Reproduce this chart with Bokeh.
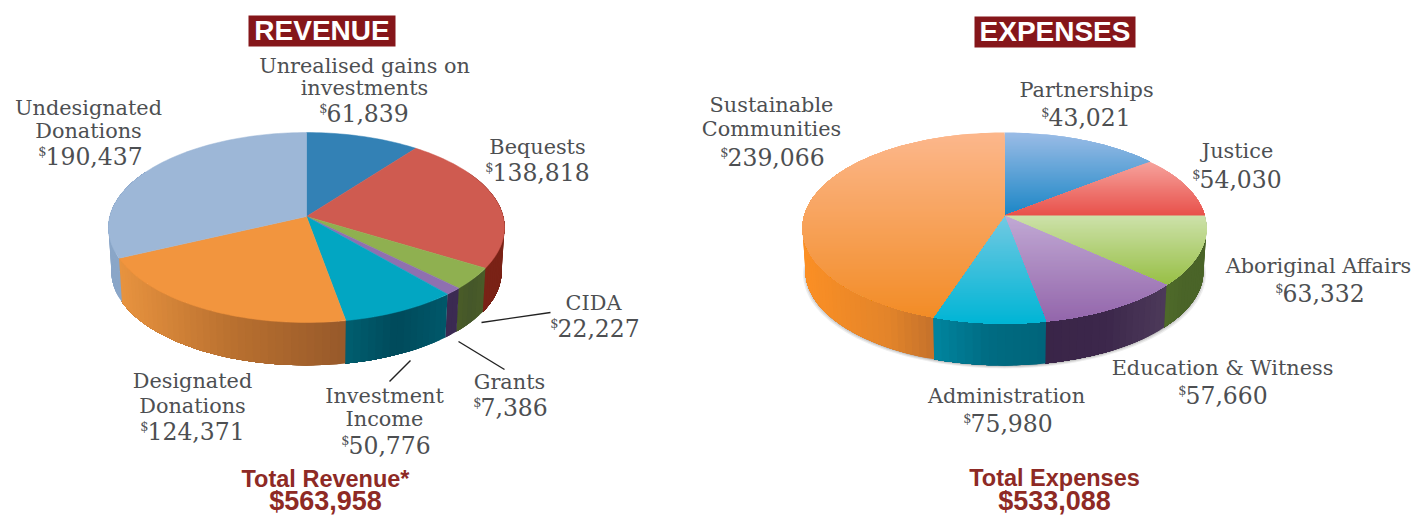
import math
from bokeh.plotting import figure
from bokeh.embed import file_html
from bokeh.resources import INLINE
from bokeh.core.properties import value

# ---- chart data ----
revenue_labels = [["Unrealised gains on", "investments"], ["Bequests"], ["CIDA"], ["Grants"],
                  ["Investment", "Income"], ["Designated", "Donations"], ["Undesignated", "Donations"]]
revenue_values = [61839, 138818, 22227, 7386, 50776, 124371, 190437]
revenue_total = "$563,958"

expense_labels = [["Partnerships"], ["Justice"], ["Aboriginal Affairs"], ["Education & Witness"],
                  ["Administration"], ["Sustainable", "Communities"]]
expense_values = [43021, 54030, 63332, 57660, 75980, 239066]
# The slices of the printed expenses pie do not follow the printed amounts,
# so their sizes (in degrees) are read from the picture itself.
expense_slice_degrees = [51.7, 38.3, 42.5, 37.1, 28.6, 161.8]
expense_total = "$533,088"

# ---- styles and layout (screen pixels) ----
FS = "DejaVu Serif"
FB = "Liberation Sans"
TXT = "#4d4f52"
RED = "#8e2a25"

rev_geo = dict(cx=306, cy=216, a=196.7, b=93.7, k=0.1158, sb=0.985, dy=44.5)
exp_geo = dict(cx=1004, cy=215, a=200.3, b=93.9, k=0.131, sb=0.985, dy=43.5)

rev_top = [("#3381b5", "#3381b5"), ("#cf5b50", "#cf5b50"), ("#8fb050", "#8fb050"), ("#8f70b0", "#8f70b0"),
           ("#02a6c2", "#02a6c2"), ("#f2953e", "#f2953e"), ("#9db7d7", "#9db7d7")]
rev_wall = [("#1c4d6e",) * 3, ("#6e1d14", "#7a2216", "#7a2216"), ("#4a5c28", "#45572a", "#4a5c28"),
            ("#3b2a52", "#3b2a52", "#3b2a52"), ("#005f70", "#004a5b", "#00586a"),
            ("#e8933f", "#b9702f", "#97592a"), ("#8aa6c8", "#8aa6c8", "#8aa6c8")]
exp_top = [("#9bbce6", "#1b86c6"), ("#f6a39d", "#e8504a"), ("#cde2aa", "#97bf45"), ("#c1a9d4", "#9366ab"),
           ("#72c9e2", "#00b5d5"), ("#fcb78c", "#f28c26")]
exp_wall = [("#3a6f95",) * 3, ("#a03a34",) * 3, ("#4f6a2a", "#4a6428", "#4a6428"), ("#3a2548", "#3c274b", "#4d3a5a"),
            ("#00859f", "#006b82", "#00647a"), ("#f08a27", "#e3842a", "#c4722b")]

rev_pos = [(364, [74, 96], 327, 122), (537, [155], 493, 181), (593, [311], 558, 337), (509, [390], 481, 416),
           (384, [404, 427], 349, 454), (192, [389, 414], 148, 440), (88, [116, 139], 46, 165)]
exp_pos = [(1086, [98], 1049, 126), (1237, [159], 1200, 188), (1318, [274], 1283, 302), (1222, [376], 1186, 404),
           (1006, [404], 971, 432), (771, [113, 137], 728, 166)]
leaders = [((481, 322), (550, 312)), ((458, 341), (504, 369)), ((410, 360), (389, 381))]

p = figure(width=1416, height=516, x_range=(0, 1416), y_range=(516, 0), output_backend="svg",
           toolbar_location=None, min_border=0, outline_line_color=None, background_fill_color="white")
p.axis.visible = False
p.grid.visible = False


def mix(c1, c2, t):
    a = [int(c1[i:i + 2], 16) for i in (1, 3, 5)]
    b = [int(c2[i:i + 2], 16) for i in (1, 3, 5)]
    return "#%02x%02x%02x" % tuple(round(x + (y - x) * t) for x, y in zip(a, b))


def rim(t, g, low=False):
    u, v = math.sin(t), math.cos(t)
    w = 1 + g["k"] * v
    s = g["sb"] if low else 1
    return g["cx"] + s * g["a"] * u / w, g["cy"] + (g["dy"] if low else 0) - s * g["b"] * v / w


def clip_band(poly, y0, y1):
    def clip(pts, inside, cross):
        out = []
        for i, q in enumerate(pts):
            r = pts[i - 1]
            if inside(q):
                if not inside(r):
                    out.append(cross(r, q))
                out.append(q)
            elif inside(r):
                out.append(cross(r, q))
        return out

    def at(y):
        return lambda r, q: (r[0] + (q[0] - r[0]) * (y - r[1]) / (q[1] - r[1]), y)

    pts = clip(poly, lambda q: q[1] >= y0, at(y0))
    return clip(pts, lambda q: q[1] <= y1, at(y1)) if pts else pts


def draw_pie(values, g, top, wall, shadow=False):
    total = sum(values)
    ang, edges = 0.0, []
    for val in values:
        edges.append((ang, ang + val / total * 2 * math.pi))
        ang = edges[-1][1]
    if shadow:
        for grow, off, al in [(1.012, 3, 0.10), (1.006, 2, 0.14), (1.0, 1, 0.2)]:
            pts = [rim(math.radians(d), g, True) for d in range(0, 360, 2)]
            p.patch([g["cx"] + (x - g["cx"]) * grow for x, _ in pts], [y + off for _, y in pts],
                    fill_color="#555555", fill_alpha=al, line_color=None)
    # side wall: overlapping strips shaded from left to right, painted in order
    xs, ys, cols = [], [], []
    for (a0, a1), stops in zip(edges, wall):
        lo, hi = max(a0, math.radians(60)), min(a1, math.radians(300))
        if hi <= lo:
            continue
        n = max(1, int(math.degrees(hi - lo) / 2))
        xl, xh = sorted((rim(lo, g)[0], rim(hi, g)[0]))
        for i in range(n):
            ts = [lo + (hi - lo) * j / n for j in range(i, n + 1)]
            pts = [rim(t, g) for t in ts] + [rim(t, g, True) for t in reversed(ts)]
            f = ((rim(ts[0], g)[0] + rim(ts[1], g)[0]) / 2 - xl) / max(xh - xl, 1)
            c = mix(stops[0], stops[1], f * 2) if f < .5 else mix(stops[1], stops[2], f * 2 - 1)
            xs.append([q[0] for q in pts])
            ys.append([q[1] for q in pts])
            cols.append(c)
    p.patches(xs, ys, fill_color=cols, line_color=None)
    # top face: overlapping horizontal bands when the slice has a vertical gradient
    for (a0, a1), (c0, c1) in zip(edges, top):
        n = max(2, int(math.degrees(a1 - a0) / 1.5))
        poly = [(g["cx"], g["cy"])] + [rim(a0 + (a1 - a0) * i / n, g) for i in range(n + 1)]
        if c0 == c1:
            p.patch([q[0] for q in poly], [q[1] for q in poly], fill_color=c0, line_color=c0, line_width=0.5)
            continue
        y_a, y_b = min(q[1] for q in poly), max(q[1] for q in poly)
        xs, ys, cols = [], [], []
        y = y_a
        while y < y_b:
            band = clip_band(poly, y, y_b)
            if len(band) >= 3:
                xs.append([q[0] for q in band])
                ys.append([q[1] for q in band])
                cols.append(mix(c0, c1, (y + 1 - y_a) / (y_b - y_a)))
            y += 2
        p.patches(xs, ys, fill_color=cols, line_color=None)


def put(x, y, s, size, color=TXT, font=FS, align="center", style="normal"):
    # the svg backend draws "alphabetic" text about 0.4 em below the requested baseline
    p.text([x], [y - 0.4 * size], text=[s], text_font=value(font), text_font_size=f"{size}px", text_color=color,
           text_align=align, text_baseline="alphabetic", text_font_style=style)


def captions(labels, values, pos):
    for lines, val, (cx, bases, xa, base) in zip(labels, values, pos):
        for line, b in zip(lines, bases):
            put(cx, b, line, 20.8)
        put(xa, base - 9, "$", 13, align="right")
        put(xa - 1, base, f"{val:,}", 23.5, align="left")


draw_pie(revenue_values, rev_geo, rev_top, rev_wall)
draw_pie(expense_slice_degrees, exp_geo, exp_top, exp_wall, shadow=True)

for (a, b) in leaders:
    p.line([a[0], b[0]], [a[1], b[1]], line_color="#222222", line_width=1.4)

captions(revenue_labels, revenue_values, rev_pos)
captions(expense_labels, expense_values, exp_pos)

p.quad(left=[248, 974], right=[395, 1135], top=[15, 16], bottom=[46, 47], fill_color="#85161a", line_color=None)
put(321.5, 41, "REVENUE", 28, "#ffffff", FB, style="bold")
put(1054.5, 42, "EXPENSES", 28, "#ffffff", FB, style="bold")
put(325, 488, "Total Revenue*", 23.5, RED, FB, style="bold")
put(325, 511, revenue_total, 27, RED, FB, style="bold")
put(1054, 487, "Total Expenses", 23.5, RED, FB, style="bold")
put(1054, 511, expense_total, 27, RED, FB, style="bold")

open("out.html", "w").write(file_html(p, INLINE))
